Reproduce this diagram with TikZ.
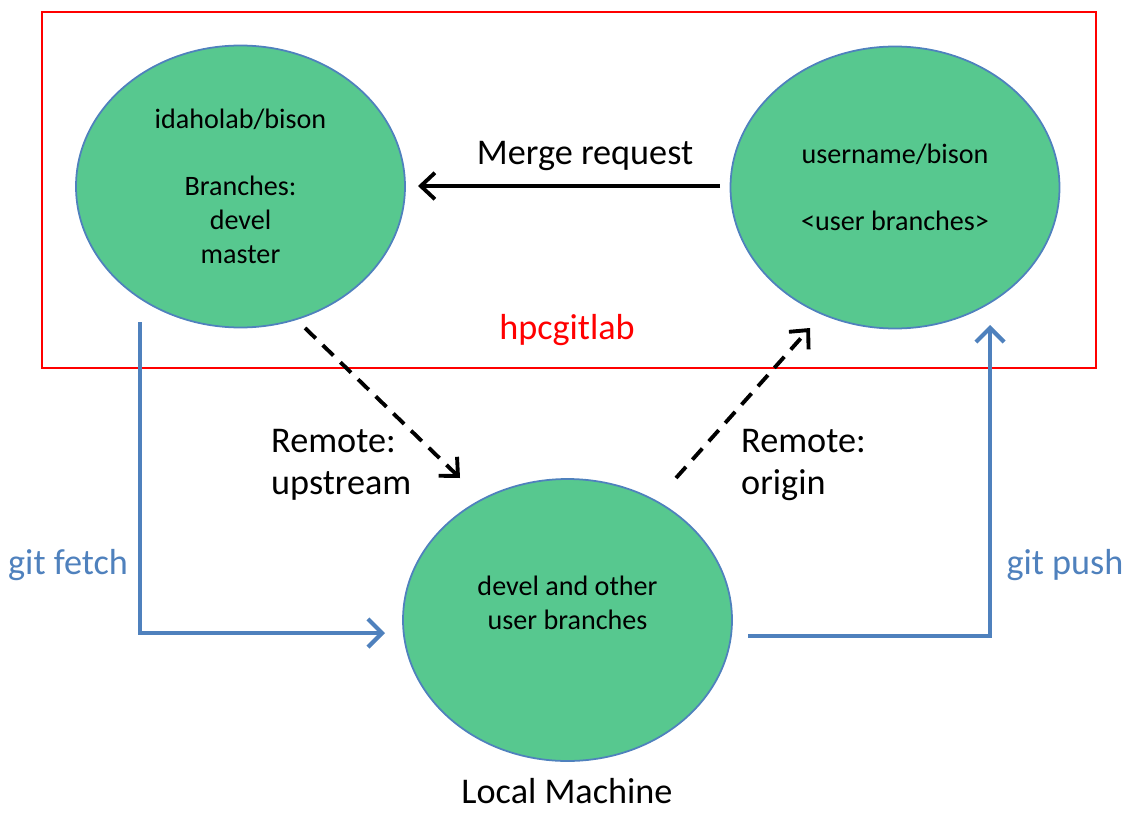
\documentclass[tikz,border=0pt]{standalone}
\usepackage{fontspec}
\setmainfont{Carlito}
\usetikzlibrary{shapes.geometric,arrows.meta}
\definecolor{repogreen}{RGB}{87,200,143}
\definecolor{lineblue}{RGB}{79,129,189}
\tikzset{
  repo/.style={draw=lineblue,line width=1pt,fill=repogreen,ellipse,
    minimum width=6.58cm,minimum height=5.64cm,align=center,font=\fontsize{16}{19.3}\selectfont},
  biglabel/.style={font=\fontsize{20.6}{24}\selectfont,align=left},
  remote/.style={draw,line width=2.2pt,dash pattern=on 8.5pt off 5.5pt,-{Straight Barb[length=8pt,width=15pt]}},
  gitcmd/.style={draw=lineblue,line width=2.4pt,-{Straight Barb[length=8pt,width=16pt]}}
}
\begin{document}
\begin{tikzpicture}
\useasboundingbox (0,0) rectangle (22.66,-16.54);
\draw[red,line width=1pt] (0.84,-0.24) rectangle (21.92,-7.36);
\node[repo] (upstream) at (4.81,-3.73) {idaholab/bison\\[19pt]Branches:\\devel\\master};
\node[repo] (fork) at (17.9,-3.75) {username/bison\\[19pt]<user branches>};
\node[repo] (local) at (11.35,-12.4) {};
\node[font=\fontsize{16}{19.3}\selectfont,align=center] (localtxt) at (11.35,-12.06) {devel and other\\user branches};
\node[text=red,biglabel] (gitlab) at (11.34,-6.6) {hpcgitlab};
\node[biglabel] (mergelbl) at (11.7,-3.12) {Merge request};
\node[biglabel,anchor=west] (uplbl) at (5.3,-9.3) {Remote:\\upstream};
\node[biglabel,anchor=west] (originlbl) at (14.7,-9.3) {Remote:\\origin};
\node[biglabel,text=lineblue] (fetchlbl) at (1.36,-11.3) {git fetch};
\node[biglabel,text=lineblue] (pushlbl) at (21.3,-11.3) {git push};
\node[biglabel] (machine) at (11.34,-15.82) {Local Machine};
\coordinate (mergestart) at (14.4,-3.72);
\coordinate (mergeend) at (8.36,-3.72);
\coordinate (fetchstart) at (2.8,-6.44);
\coordinate (fetchend) at (7.7,-12.66);
\coordinate (pushstart) at (14.96,-12.72);
\coordinate (pushend) at (19.8,-6.5);
\coordinate (upstart) at (6.1,-6.56);
\coordinate (upend) at (9.2,-9.56);
\coordinate (originstart) at (13.52,-9.56);
\coordinate (originend) at (16.2,-6.56);
\draw[line width=2.2pt,-{Straight Barb[length=8pt,width=15pt]}] (mergestart) -- (mergeend);
\draw[remote] (upstart) -- (upend);
\draw[remote] (originstart) -- (originend);
\draw[gitcmd] (fetchstart) |- (fetchend);
\draw[gitcmd] (pushstart) -| (pushend);
\end{tikzpicture}
\end{document}
